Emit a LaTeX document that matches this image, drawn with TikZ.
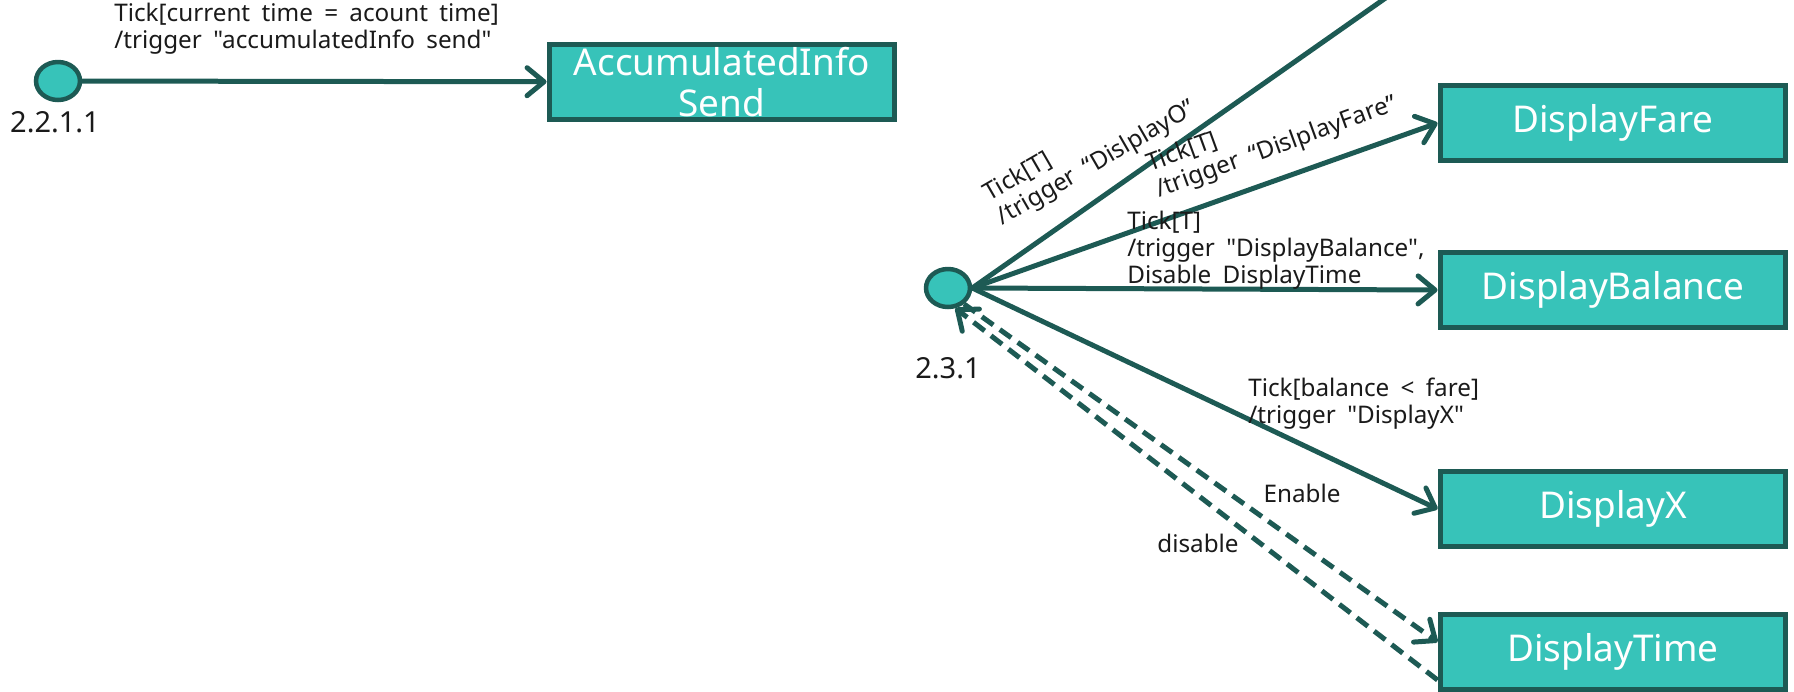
\documentclass[tikz,border=0pt]{standalone}
\usepackage{fontspec}
\setmainfont{Noto Sans}[Ligatures=TeXOff]
\newfontfamily\lblfont{Noto Sans}[Ligatures=TeXOff, WordSpace=1.8]
\usepackage{xcolor}
\usepackage{tikz}
\usetikzlibrary{shapes.geometric,arrows.meta}

\definecolor{statefill}{HTML}{37C3B9}
\definecolor{stateline}{HTML}{1D5A54}
\definecolor{lbltext}{HTML}{1A1A1A}

\tikzset{
  state/.style={ellipse, draw=stateline, fill=statefill, line width=0.09cm,
    minimum width=0.88cm, minimum height=0.76cm, inner sep=0pt},
  actbox/.style={rectangle, draw=stateline, fill=statefill, line width=0.1cm,
    minimum width=6.92cm, minimum height=1.5cm, inner sep=0pt, text=white,
    align=center, font=\fontsize{21}{23}\selectfont},
  wire/.style={draw=stateline, line width=0.1cm},
  trans/.style={wire, -{Straight Barb[length=0.34cm,width=0.56cm,round]}},
  dashes/.style={dash pattern=on 0.28cm off 0.16cm},
  lbl/.style={font=\lblfont\fontsize{13.8}{15.4}\selectfont, text=lbltext, align=left, inner sep=0pt},
  num/.style={font=\fontsize{16.5}{18}\selectfont, text=lbltext, inner sep=0pt}
}

\begin{document}
\begin{tikzpicture}[x=0.02cm, y=-0.02cm]
        \useasboundingbox (0,0) rectangle (1794,691);

        % State 2.2.1.1
        \node[state] (s2211) at (58,81) {};
        \node[num] (n2211) at (55,122) {2.2.1.1};
        \node[actbox] (acc) at (722,82) {AccumulatedInfo\\Send};
        \draw[trans] (s2211) -- (acc);
        \node[lbl, anchor=west] (tAcc) at (114,29) {Tick[current time = acount time]\\/trigger "accumulatedInfo send"};

        % State 2.3.1
        \node[state] (s231) at (948,288) {};
        \node[num] (n231) at (948,368) {2.3.1};

        % Display actions
        \node[actbox] (fare) at (1613,123) {DisplayFare};
        \node[actbox] (bal) at (1613,290) {DisplayBalance};
        \node[actbox] (dx) at (1613,509) {DisplayX};
        \node[actbox] (dt) at (1613,652) {DisplayTime};
        \coordinate (dispO) at (1397,-10);

        % Transitions
        \draw[wire] (s231.east) -- (dispO);
        \draw[trans] (s231.east) -- (fare.west);
        \draw[trans] (s231.east) -- (bal.west);
        \draw[trans] (s231.east) -- (dx.west);
        \draw[trans, dashes] (s231.-45) -- ([yshift=0.2cm]dt.west);
        \draw[trans, dashes] ([yshift=-0.56cm]dt.west) -- (s231.-70);

        % Transition labels
        \node[lbl, rotate=30] (tO) at (1090,152) {Tick[T]\\/trigger “DislplayO”};
        \node[lbl, rotate=20] (tFare) at (1272,135) {Tick[T]\\/trigger “DislplayFare”};
        \node[lbl, anchor=west] (tBal) at (1127,250) {Tick[T]\\/trigger "DisplayBalance",\\Disable DisplayTime};
        \node[lbl, anchor=west] (tX) at (1248,404) {Tick[balance < fare]\\/trigger "DisplayX"};
        \node[lbl] (tEn) at (1302,493) {Enable};
        \node[lbl] (tDis) at (1198,543) {disable};
    \end{tikzpicture}
\end{document}
